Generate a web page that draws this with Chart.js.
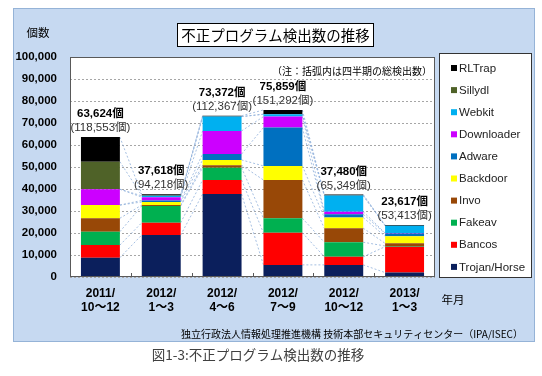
<!DOCTYPE html>
<html lang="ja">
<head>
<meta charset="utf-8">
<script src="https://cdn.jsdelivr.net/npm/chart.js@4/dist/chart.umd.min.js"></script>
<style>
  html, body { margin: 0; padding: 0; background: #fff; }
  canvas { display: block; }
</style>
</head>
<body>
<canvas id="malwareChart" width="542" height="376"></canvas>
<script>
// 四半期ごとの不正プログラム検出数（値はグラフから読み取り）
const categories = [['2011/', '10～12'], ['2012/', '1～3'], ['2012/', '4～6'], ['2012/', '7～9'], ['2012/', '10～12'], ['2013/', '1～3']];
const trojanHorse = [8800, 19100, 37700, 5500, 5500, 2000];
const bancos = [5700, 5600, 6400, 14600, 3700, 11800];
const fakeav = [6100, 7600, 5600, 6600, 6600, 300];
const invo = [6100, 400, 1100, 17400, 6400, 1200];
const backdoor = [6000, 1400, 2400, 6400, 4800, 3200];
const adware = [0, 700, 2700, 17400, 1500, 1300];
const downloader = [7200, 1500, 10500, 5000, 1200, 200];
const webkit = [0, 600, 6500, 1100, 7300, 3300];
const sillydl = [12500, 100, 0, 0, 0, 0];
const rlTrap = [11200, 600, 400, 1900, 500, 300];
const shownTotals = [63624, 37618, 73372, 75859, 37480, 23617];
const quarterTotals = [118553, 94218, 112367, 151292, 65349, 53413];

const JP = '"Noto Sans CJK JP", sans-serif';
const LAT = '"Liberation Sans", Arial, "Noto Sans CJK JP", sans-serif';
Chart.defaults.font.family = LAT;
Chart.defaults.color = '#000';

const series = [
  { label: 'Trojan/Horse', data: trojanHorse, color: '#0b1f5c' },
  { label: 'Bancos', data: bancos, color: '#ff0000' },
  { label: 'Fakeav', data: fakeav, color: '#00b050' },
  { label: 'Invo', data: invo, color: '#984807' },
  { label: 'Backdoor', data: backdoor, color: '#ffff00' },
  { label: 'Adware', data: adware, color: '#0070c0' },
  { label: 'Downloader', data: downloader, color: '#cc00ff' },
  { label: 'Webkit', data: webkit, color: '#00b0f0' },
  { label: 'Sillydl', data: sillydl, color: '#4f6228' },
  { label: 'RLTrap', data: rlTrap, color: '#000000' },
];

const fmt = v => v.toLocaleString('en-US');

// 背景・枠・タイトルなど
const decor = {
  id: 'decor',
  beforeDraw(chart) {
    const { ctx, chartArea: a } = chart;
    ctx.save();
    ctx.fillStyle = '#fff';
    ctx.fillRect(0, 0, chart.width, chart.height);
    ctx.fillStyle = '#c6d9f1';
    ctx.fillRect(13, 8, 522, 334);
    ctx.strokeStyle = '#95b3d7';
    ctx.lineWidth = 1;
    ctx.strokeRect(13.5, 8.5, 521, 333);
    ctx.fillStyle = '#fff';
    ctx.fillRect(a.left, a.top, a.right - a.left, a.bottom - a.top);

    // タイトル
    ctx.fillRect(177, 23, 197, 24);
    ctx.strokeStyle = '#000';
    ctx.strokeRect(177.5, 23.5, 196, 23);
    ctx.fillStyle = '#000';
    ctx.textAlign = 'center';
    ctx.textBaseline = 'middle';
    ctx.font = '14.5px ' + JP;
    ctx.fillText('不正プログラム検出数の推移', 275.5, 35.5);

    ctx.font = '11.5px ' + JP;
    ctx.fillText('個数', 38, 33);
    ctx.fillText('年月', 453, 300);

    ctx.textAlign = 'right';
    ctx.font = '10px ' + JP;
    ctx.fillText('（注：括弧内は四半期の総検出数）', 432, 71);
    ctx.fillText('独立行政法人情報処理推進機構 技術本部セキュリティセンター（IPA/ISEC）', 523, 334);

    ctx.textAlign = 'center';
    ctx.fillStyle = '#404040';
    ctx.font = '13.5px ' + JP;
    ctx.fillText('図1-3:不正プログラム検出数の推移', 258, 355);

    // 凡例
    ctx.fillStyle = '#fff';
    ctx.fillRect(439, 53, 93, 225);
    ctx.strokeStyle = '#333';
    ctx.strokeRect(439.5, 53.5, 92, 224);
    ctx.textAlign = 'left';
    ctx.font = '11.5px ' + LAT;
    const ds = chart.data.datasets;
    for (let k = 0; k < ds.length; k++) {
      const d = ds[ds.length - 1 - k];
      const y = 68 + k * 22.1;
      ctx.fillStyle = d.backgroundColor;
      ctx.fillRect(451, y - 3, 6, 6);
      ctx.fillStyle = '#222';
      ctx.fillText(d.label, 459, y + 0.5);
    }
    ctx.restore();
  },
  beforeDatasetsDraw(chart) {
    // 区分線（系列線）
    const ctx = chart.ctx;
    ctx.save();
    ctx.strokeStyle = '#8fb0da';
    ctx.lineWidth = 0.8;
    ctx.setLineDash([2, 2]);
    chart.data.datasets.forEach((ds, d) => {
      const bars = chart.getDatasetMeta(d).data;
      for (let i = 0; i < bars.length - 1; i++) {
        const p = bars[i], q = bars[i + 1];
        ctx.beginPath();
        ctx.moveTo(p.x + p.width / 2, p.y);
        ctx.lineTo(q.x - q.width / 2, q.y);
        ctx.stroke();
      }
    });
    ctx.restore();
  },
  afterDatasetsDraw(chart) {
    const { ctx, chartArea: a } = chart;
    ctx.save();
    // 目盛り
    ctx.strokeStyle = '#595959';
    ctx.lineWidth = 1;
    const step = (a.right - a.left) / categories.length;
    for (let i = 1; i < categories.length; i++) {
      const px = Math.round(a.left + step * i) + 0.5;
      ctx.beginPath();
      ctx.moveTo(px, a.bottom);
      ctx.lineTo(px, a.bottom - 4);
      ctx.stroke();
    }
    ctx.strokeRect(a.left + 0.5, a.top + 0.5, a.right - a.left - 1, a.bottom - a.top - 1);

    // 合計ラベル
    const top = chart.getDatasetMeta(chart.data.datasets.length - 1).data;
    ctx.textAlign = 'center';
    ctx.textBaseline = 'middle';
    top.forEach((bar, i) => {
      ctx.fillStyle = '#000';
      ctx.font = 'bold 11.5px ' + LAT;
      ctx.fillText(fmt(shownTotals[i]) + '個', bar.x, bar.y - 23);
      ctx.fillStyle = '#333';
      ctx.font = '11.5px ' + LAT;
      ctx.fillText('(' + fmt(quarterTotals[i]) + '個)', bar.x, bar.y - 9);
    });
    ctx.restore();
  },
};

new Chart(document.getElementById('malwareChart'), {
  type: 'bar',
  data: {
    labels: categories,
    datasets: series.map(s => ({
      label: s.label,
      data: s.data,
      backgroundColor: s.color,
      borderWidth: 0,
      barPercentage: 0.64,
      categoryPercentage: 1,
    })),
  },
  options: {
    responsive: false,
    animation: false,
    layout: { padding: { top: 57, right: 107, bottom: 0, left: 0 } },
    plugins: {
      legend: { display: false },
      tooltip: { enabled: false },
    },
    scales: {
      x: {
        stacked: true,
        grid: { display: false, drawTicks: false },
        border: { display: false },
        ticks: {
          padding: 10,
          font: { size: 12, weight: 'bold', lineHeight: 1.17 },
          maxRotation: 0,
        },
        afterFit: s => { s.height = 99; },
      },
      y: {
        stacked: true,
        min: 0,
        max: 100000,
        grid: { color: '#a6a6a6', drawTicks: false },
        border: { display: false, dash: [2, 2] },
        ticks: {
          stepSize: 10000,
          padding: 13,
          font: { size: 11.5, weight: 'bold' },
          callback: v => fmt(v),
        },
        afterFit: s => { s.width = 70; },
      },
    },
  },
  plugins: [decor],
});
</script>
</body>
</html>
